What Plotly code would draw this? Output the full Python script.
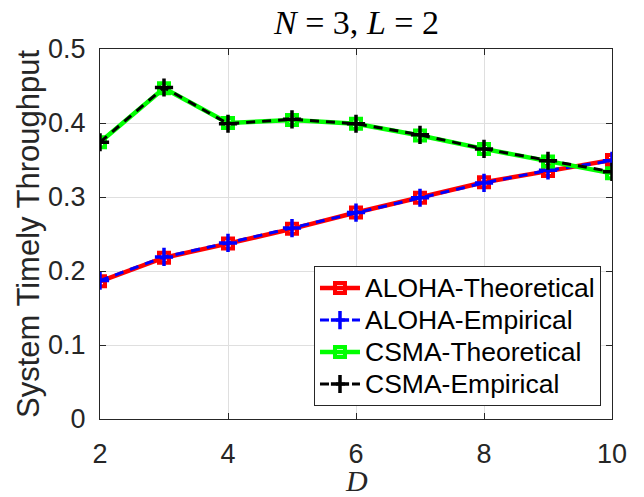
import plotly.graph_objects as go

D = [2, 3, 4, 5, 6, 7, 8, 9, 10]
aloha_theo = [0.186, 0.218, 0.237, 0.257, 0.279, 0.299, 0.320, 0.335, 0.350]
aloha_emp = [0.187, 0.219, 0.238, 0.258, 0.279, 0.299, 0.319, 0.336, 0.349]
csma_theo = [0.374, 0.447, 0.400, 0.404, 0.399, 0.383, 0.365, 0.348, 0.332]
csma_emp = [0.374, 0.448, 0.399, 0.405, 0.399, 0.384, 0.365, 0.349, 0.334]
series_names = ["ALOHA-Theoretical", "ALOHA-Empirical", "CSMA-Theoretical", "CSMA-Empirical"]
x_ticks = [2, 4, 6, 8, 10]
y_ticks = [0, 0.1, 0.2, 0.3, 0.4, 0.5]

fig = go.Figure()


def legend_name(name):
    return "<span style='font-size:26.5px'>" + name + "</span>"


def theo(y, color, name):
    return go.Scatter(
        x=D, y=y, name=legend_name(name), mode="lines+markers",
        line=dict(color=color, width=4.5),
        marker=dict(symbol="square-open", size=10, color=color,
                    line=dict(color=color, width=4)),
    )


def emp(y, color, name):
    return go.Scatter(
        x=D, y=y, name=legend_name(name), mode="lines+markers",
        line=dict(color=color, width=3, dash="9px,7px"),
        marker=dict(symbol="cross-thin-open", size=13, color=color,
                    line=dict(color=color, width=3.5)),
    )


fig.add_trace(theo(aloha_theo, "#ff0000", series_names[0]))
fig.add_trace(emp(aloha_emp, "#0000ff", series_names[1]))
fig.add_trace(theo(csma_theo, "#00ff00", series_names[2]))
fig.add_trace(emp(csma_emp, "#000000", series_names[3]))

axis_common = dict(
    showgrid=True, gridcolor="#dfdfdf", gridwidth=1,
    showline=True, linecolor="#262626", linewidth=1.2, mirror="ticks",
    ticks="inside", ticklen=6, tickcolor="#262626", tickwidth=1,
    zeroline=False,
    tickfont=dict(family="Liberation Sans, Arial", size=27, color="#262626"),
)

fig.update_xaxes(range=[2, 10], tickvals=x_ticks, ticktext=[str(v) for v in x_ticks],
                 ticklabelstandoff=10, **axis_common)
fig.update_yaxes(range=[0, 0.5], tickvals=y_ticks,
                 ticktext=["0", "0.1", "0.2", "0.3", "0.4", "0.5"],
                 ticklabelstandoff=8, **axis_common)

fig.update_layout(
    width=644, height=497,
    margin=dict(l=100, r=32, t=49, b=78),
    paper_bgcolor="white", plot_bgcolor="white",
    showlegend=True,
    legend=dict(
        x=0.9785, y=0.035, xanchor="right", yanchor="bottom",
        bgcolor="white", bordercolor="#262626", borderwidth=1,
        font=dict(family="Liberation Sans, Arial", size=22.3, color="black"),
        itemwidth=40, tracegroupgap=0,
    ),
    annotations=[
        dict(text="<i>N</i>&nbsp;=&nbsp;3,&nbsp;<i>L</i>&nbsp;=&nbsp;2", xref="paper", yref="paper",
             x=0.5, y=1 + 27 / 370, xanchor="center", yanchor="middle",
             showarrow=False,
             font=dict(family="Liberation Serif, DejaVu Serif", size=34, color="black")),
        dict(text="<i>D</i>", xref="paper", yref="paper",
             x=0.5, y=-61 / 370, xanchor="center", yanchor="middle",
             showarrow=False,
             font=dict(family="Liberation Serif, DejaVu Serif", size=30, color="#262626")),
        dict(text="System Timely Throughput", xref="paper", yref="paper",
             x=-72 / 512, y=0.5, xanchor="center", yanchor="middle",
             textangle=-90, showarrow=False,
             font=dict(family="Liberation Sans, Arial", size=31, color="#262626")),
    ],
)

fig.write_html("out.html")
